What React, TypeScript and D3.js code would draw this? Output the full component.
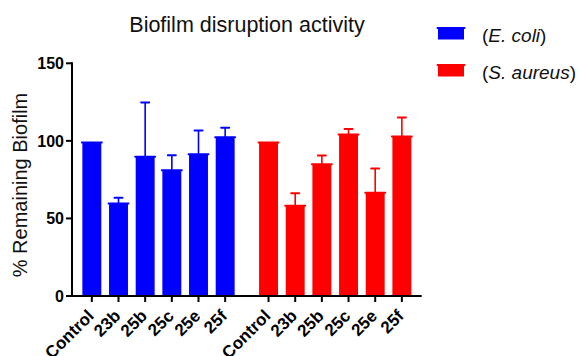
import React from "react";
import * as d3 from "d3";

const categories = ["Control", "23b", "25b", "25c", "25e", "25f"];
const groups = ["E. coli", "S. aureus"];
const ecoliMean = [99, 59.7, 89.7, 81.1, 91.4, 102.4];
const ecoliUpper = [99, 63.3, 124.7, 90.8, 106.7, 108.4];
const aureusMean = [99, 58.2, 85, 104.1, 66.5, 102.8];
const aureusUpper = [99, 66.3, 90.6, 107.7, 82.2, 115];
const colors = ["#0000FF", "#FF0000"];
const yTicks = [0, 50, 100, 150];

const series = [
  { name: groups[0], mean: ecoliMean, upper: ecoliUpper, color: colors[0] },
  { name: groups[1], mean: aureusMean, upper: aureusUpper, color: colors[1] },
];

const App = () => {
  const width = 579;
  const height = 356;
  const axisX = 72;
  const axisY = 296;
  const font = "'Liberation Sans', Arial, sans-serif";

  const yScale = d3.scaleLinear().domain([0, 150]).range([axisY, 63.3]);

  const x0 = d3
    .scaleBand()
    .domain(groups)
    .range([axisX, 421.7])
    .paddingInner(0.0945)
    .paddingOuter(0.0368);

  const x1 = d3
    .scaleBand()
    .domain(categories)
    .range([0, x0.bandwidth()])
    .paddingInner(0.29)
    .paddingOuter(0.145);

  const bw = x1.bandwidth();

  return (
    <svg
      width={width}
      height={height}
      style={{ position: "absolute", left: 0, top: 0 }}
      fontFamily={font}
    >
      <rect width={width} height={height} fill="white" />
      {/* Title */}
      <text x={247} y={32} textAnchor="middle" fontSize="21.5px" fill="#111">
        Biofilm disruption activity
      </text>
      {/* Y label */}
      <text
        transform={`translate(27, 185) rotate(-90)`}
        textAnchor="middle"
        fontSize="20px"
        fill="#111"
      >
        % Remaining Biofilm
      </text>

      {/* Bars */}
      {series.map((s) => (
        <g key={s.name} transform={`translate(${x0(s.name)}, 0)`}>
          {categories.map((c, i) => {
            const x = x1(c) as number;
            const cx = x + bw / 2;
            const yTop = yScale(s.mean[i]);
            const yErr = yScale(s.upper[i]);
            return (
              <g key={c}>
                {s.upper[i] > s.mean[i] && (
                  <>
                    <line
                      x1={cx}
                      x2={cx}
                      y1={yTop}
                      y2={yErr}
                      stroke={s.color}
                      strokeWidth={1.6}
                    />
                    <line
                      x1={cx - 4}
                      x2={cx + 4}
                      y1={yErr}
                      y2={yErr}
                      stroke={s.color}
                      strokeWidth={2}
                      strokeLinecap="round"
                    />
                  </>
                )}
                <rect
                  x={x}
                  y={yTop}
                  width={bw}
                  height={axisY - yTop}
                  fill={s.color}
                />
                <line
                  x1={x - 0.5}
                  x2={x + bw + 0.5}
                  y1={yTop}
                  y2={yTop}
                  stroke={s.color}
                  strokeWidth={2}
                  strokeLinecap="round"
                />
              </g>
            );
          })}
        </g>
      ))}

      {/* Y axis */}
      <line
        x1={axisX}
        x2={axisX}
        y1={yScale(150) - 1}
        y2={axisY + 1}
        stroke="black"
        strokeWidth={2}
      />
      {yTicks.map((t) => (
        <g key={t} transform={`translate(0, ${yScale(t)})`}>
          <line x1={axisX - 6} x2={axisX} y1={0} y2={0} stroke="black" strokeWidth={2} />
          <text
            x={axisX - 8}
            y={0}
            dy="0.36em"
            textAnchor="end"
            fontSize="16px"
            fontWeight="bold"
          >
            {t}
          </text>
        </g>
      ))}

      {/* X axis */}
      <line
        x1={axisX - 1}
        x2={421.7}
        y1={axisY}
        y2={axisY}
        stroke="black"
        strokeWidth={2}
      />
      {series.map((s) => (
        <g key={s.name} transform={`translate(${x0(s.name)}, 0)`}>
          {categories.map((c) => {
            const cx = (x1(c) as number) + bw / 2;
            return (
              <g key={c}>
                <line
                  x1={cx}
                  x2={cx}
                  y1={axisY}
                  y2={axisY + 6}
                  stroke="black"
                  strokeWidth={2}
                />
                <text
                  transform={`translate(${cx + 3}, ${axisY + 21}) rotate(-45)`}
                  textAnchor="end"
                  fontSize="17px"
                  fontWeight="bold"
                >
                  {c}
                </text>
              </g>
            );
          })}
        </g>
      ))}

      {/* Legend */}
      {series.map((s, i) => (
        <g key={s.name} transform={`translate(0, ${33.5 + i * 37})`}>
          <rect x={438} y={-5.5} width={26} height={11.5} fill={s.color} />
          <line
            x1={437.5}
            x2={464.5}
            y1={-5.5}
            y2={-5.5}
            stroke={s.color}
            strokeWidth={2}
            strokeLinecap="round"
          />
          <text x={482} y={8} fontSize="19px" fill="#111">
            (<tspan fontStyle="italic">{s.name}</tspan>)
          </text>
        </g>
      ))}
    </svg>
  );
};

export default App;
